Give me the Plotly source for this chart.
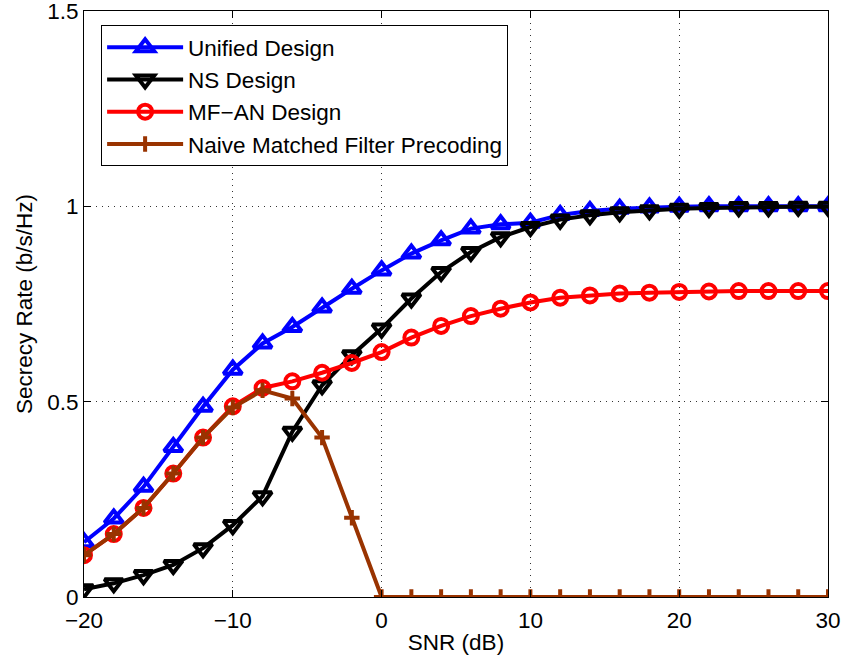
import plotly.graph_objects as go

snr_db = [-20, -18, -16, -14, -12, -10, -8, -6, -4, -2, 0, 2, 4, 6, 8, 10,
          12, 14, 16, 18, 20, 22, 24, 26, 28, 30]

unified = [0.140, 0.201, 0.282, 0.384, 0.487, 0.582, 0.649, 0.691, 0.741, 0.789,
           0.836, 0.879, 0.913, 0.943, 0.954, 0.958, 0.978, 0.988, 0.994, 0.997,
           0.999, 1.000, 1.000, 1.000, 1.000, 1.000]
ns = [0.020, 0.035, 0.056, 0.082, 0.125, 0.184, 0.258, 0.423, 0.542, 0.619,
      0.687, 0.764, 0.832, 0.883, 0.921, 0.947, 0.966, 0.977, 0.985, 0.990,
      0.994, 0.996, 0.998, 0.998, 0.999, 0.999]
mf_an = [0.107, 0.161, 0.228, 0.316, 0.408, 0.488, 0.535, 0.552, 0.574, 0.599,
         0.627, 0.664, 0.694, 0.719, 0.738, 0.754, 0.766, 0.772, 0.777, 0.779,
         0.781, 0.782, 0.783, 0.783, 0.783, 0.783]
naive = [0.107, 0.161, 0.228, 0.316, 0.408, 0.485, 0.529, 0.508, 0.408, 0.203,
         0.0, 0.0, 0.0, 0.0, 0.0, 0.0, 0.0, 0.0, 0.0, 0.0,
         0.0, 0.0, 0.0, 0.0, 0.0, 0.0]

x_ticks = [-20, -10, 0, 10, 20, 30]
y_ticks = [0, 0.5, 1, 1.5]
y_tick_text = ["0", "0.5", "1", "1.5"]

FONT = "Liberation Sans, Arial, Helvetica, sans-serif"
FS = 22.5
BROWN = "#993300"

series = [
    ("Unified Design", unified, "blue", "triangle-up-open", 16, 4),
    ("NS Design", ns, "black", "triangle-down-open", 16, 4),
    ("MF\u2212AN Design", mf_an, "red", "circle-open", 14, 4),
    ("Naive Matched Filter Precoding", naive, BROWN, "cross-thin-open", 11, 4),
]

fig = go.Figure()
for name, vals, col, sym, size, lw in series:
    fig.add_trace(go.Scatter(
        x=snr_db, y=vals, name=name, mode="lines+markers",
        line=dict(color=col, width=4),
        marker=dict(symbol=sym, size=size, color=col,
                    line=dict(color=col, width=lw)),
    ))

axis_common = dict(
    showline=True, linecolor="black", linewidth=1, mirror="ticks",
    ticks="inside", ticklen=7, tickcolor="black", tickwidth=1,
    showgrid=True, gridcolor="#333333", gridwidth=1, griddash="1px,5px",
    zeroline=False, automargin=False, ticklabeloverflow="allow",
    tickfont=dict(family=FONT, size=FS, color="black"),
)

fig.update_xaxes(range=[-20, 30], tickvals=x_ticks, ticklabelstandoff=3,
                 title=dict(text="SNR (dB)", font=dict(family=FONT, size=FS, color="black"),
                            standoff=2),
                 **axis_common)
fig.update_yaxes(range=[0, 1.5], tickvals=y_ticks, ticktext=y_tick_text,
                 title=dict(text="Secrecy Rate (b/s/Hz)",
                            font=dict(family=FONT, size=FS, color="black"),
                            standoff=8),
                 **axis_common)

fig.update_layout(
    width=842, height=657,
    margin=dict(l=84, r=14, t=11, b=60),
    paper_bgcolor="white", plot_bgcolor="white",
    font=dict(family=FONT, color="black"),
    showlegend=True,
    legend=dict(x=0.023, y=0.976, xanchor="left", yanchor="top",
                bgcolor="white", bordercolor="black", borderwidth=1,
                font=dict(family=FONT, size=22.5, color="black"),
                itemwidth=76, tracegroupgap=0),
)

fig.write_html("out.html",
               config={"displayModeBar": False},
               post_script="document.body.style.margin='0';"
                           "document.body.style.overflow='hidden';")
